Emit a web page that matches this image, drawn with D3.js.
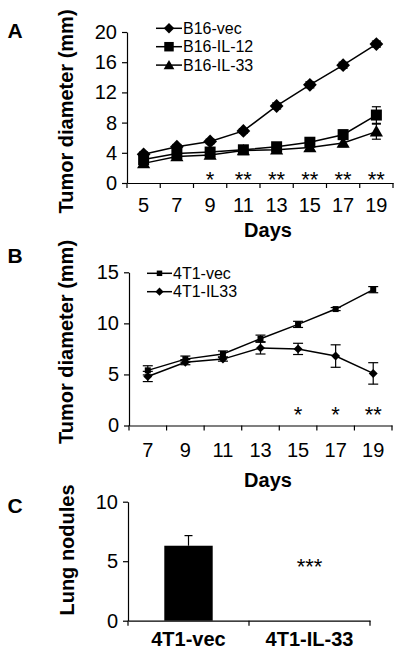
<!DOCTYPE html>
<html><head><meta charset="utf-8">
<script src="https://cdn.jsdelivr.net/npm/d3@7"></script>
<style>body{margin:0;background:#fff}svg{display:block}text{font-family:"Liberation Sans",Arial,sans-serif;fill:#000}</style>
</head><body>
<script>
// ---------- Panel A data ----------
const daysA = [5, 7, 9, 11, 13, 15, 17, 19];
const vecA = [3.8, 4.8, 5.5, 6.9, 10.2, 13.0, 15.6, 18.4];
const vecAErr = [0.3, 0.3, 0.3, 0.3, 0.4, 0.4, 0.4, 0.4];
const il12A = [3.1, 3.9, 4.1, 4.4, 4.8, 5.4, 6.4, 9.0];
const il12AErr = [0.3, 0.3, 0.3, 0.3, 0.4, 0.5, 0.6, 1.1];
const il33A = [2.6, 3.5, 3.7, 4.3, 4.4, 4.7, 5.3, 6.8];
const il33AErr = [0.3, 0.3, 0.3, 0.3, 0.3, 0.4, 0.5, 1.0];
const sigA = ["", "", "*", "**", "**", "**", "**", "**"];
const ticksA = [0, 4, 8, 12, 16, 20];
const legendA = ["B16-vec", "B16-IL-12", "B16-IL-33"];

// ---------- Panel B data ----------
const daysB = [7, 9, 11, 13, 15, 17, 19];
const vecB = [5.4, 6.5, 7.0, 8.5, 9.9, 11.4, 13.3];
const vecBErr = [0.45, 0.3, 0.3, 0.35, 0.3, 0.15, 0.3];
const il33B = [4.8, 6.2, 6.5, 7.6, 7.5, 6.8, 5.1];
const il33BErr = [0.5, 0.25, 0.2, 0.6, 0.55, 1.1, 1.05];
const sigB = ["", "", "", "", "*", "*", "**"];
const ticksB = [0, 5, 10, 15];
const legendB = ["4T1-vec", "4T1-IL33"];

// ---------- Panel C data ----------
const groupsC = ["4T1-vec", "4T1-IL-33"];
const valuesC = [6.3, 0];
const errC = [0.85, 0];
const sigC = ["", "***"];
const ticksC = [0, 5, 10];

const svg = d3.select("body").append("svg").attr("width", 400).attr("height", 654);

function marker(g, type, size, x, y) {
  let p;
  if (type === "diamond") p = g.append("path").attr("d", d3.symbol(d3.symbolSquare, size)()).attr("transform", `translate(${x},${y}) rotate(45)`);
  else if (type === "square") p = g.append("path").attr("d", d3.symbol(d3.symbolSquare, size)()).attr("transform", `translate(${x},${y})`);
  else p = g.append("path").attr("d", d3.symbol(d3.symbolTriangle, size)()).attr("transform", `translate(${x},${y + 1})`);
  p.attr("fill", "#000");
}

function axisStyle(g, fs) {
  g.select(".domain").attr("stroke", "#000").attr("stroke-width", 1.2);
  g.selectAll(".tick line").attr("stroke", "#000").attr("stroke-width", 1.2);
  g.selectAll(".tick text").style("font-size", fs + "px").attr("fill", "#000");
}

function linePanel(opts) {
  const { days, series, ticks, yDomain, xRange, yRange, pad, sig, sigY, legend, leg, capW, lw } = opts;
  const x = d3.scaleBand().domain(days).range(xRange);
  const y = d3.scaleLinear().domain(yDomain).range(yRange);
  const cx = d => x(d) + x.bandwidth() / 2;
  const g = svg.append("g");
  const ya = g.append("g").attr("transform", `translate(${xRange[0]},0)`)
    .call(d3.axisLeft(y).tickValues(ticks).tickSize(5).tickSizeOuter(0).tickPadding(5));
  axisStyle(ya, 20);
  const xa = g.append("g").attr("transform", `translate(0,${yRange[0]})`)
    .call(d3.axisBottom(x).tickSize(0).tickSizeOuter(0).tickPadding(pad));
  axisStyle(xa, 20);
  const edges = days.map(d => x(d)).concat([x.range()[1]]);
  xa.selectAll(".edge").data(edges).join("line").attr("class", "edge")
    .attr("x1", d => d).attr("x2", d => d).attr("y1", 0).attr("y2", 5)
    .attr("stroke", "#000").attr("stroke-width", 1.2);
  series.forEach(s => {
    const pts = days.map((d, i) => ({ d, v: s.values[i], e: s.err[i] }));
    g.append("path").datum(pts)
      .attr("d", d3.line().x(p => cx(p.d)).y(p => y(p.v)))
      .attr("fill", "none").attr("stroke", "#000").attr("stroke-width", lw);
    pts.forEach(p => {
      const X = cx(p.d);
      g.append("line").attr("x1", X).attr("x2", X).attr("y1", y(p.v - p.e)).attr("y2", y(p.v + p.e)).attr("stroke", "#000").attr("stroke-width", 1.2);
      [p.v - p.e, p.v + p.e].forEach(v => g.append("line").attr("x1", X - capW / 2).attr("x2", X + capW / 2).attr("y1", y(v)).attr("y2", y(v)).attr("stroke", "#000").attr("stroke-width", 1.2));
    });
  });
  series.forEach(s => {
    days.forEach((d, i) => marker(g, s.type, s.size, cx(d), y(s.values[i])));
  });
  g.selectAll(".sig").data(days).join("text").attr("class", "sig")
    .attr("x", d => cx(d)).attr("y", sigY).attr("text-anchor", "middle")
    .style("font-size", "22px").text((d, i) => sig[i]);
  legend.forEach((name, i) => {
    const ly = leg.y0 + i * leg.dy;
    g.append("line").attr("x1", leg.x0).attr("x2", leg.x1).attr("y1", ly).attr("y2", ly).attr("stroke", "#000").attr("stroke-width", lw);
    marker(g, series[i].type, leg.sizes[i], (leg.x0 + leg.x1) / 2, ly);
    g.append("text").attr("x", leg.x1 + 1).attr("y", ly).attr("dy", "0.36em").style("font-size", leg.fs + "px").text(name);
  });
  return { x, y };
}

// ---------- Panel A ----------
linePanel({
  days: daysA,
  series: [
    { values: vecA, err: vecAErr, type: "diamond", size: 95 },
    { values: il12A, err: il12AErr, type: "square", size: 121 },
    { values: il33A, err: il33AErr, type: "triangle", size: 75 }
  ],
  ticks: ticksA, yDomain: [0, 20], xRange: [127, 393], yRange: [183, 32], pad: 15,
  sig: sigA, sigY: 186.5, legend: legendA,
  leg: { x0: 156, x1: 182, y0: 28.3, dy: 18.4, fs: 16, sizes: [55, 90, 50] }, capW: 9, lw: 1.5
});

// ---------- Panel B ----------
linePanel({
  days: daysB,
  series: [
    { values: vecB, err: vecBErr, type: "square", size: 36 },
    { values: il33B, err: il33BErr, type: "diamond", size: 40 }
  ],
  ticks: ticksB, yDomain: [0, 15], xRange: [129, 392], yRange: [425.5, 272.3], pad: 17,
  sig: sigB, sigY: 421.5, legend: legendB,
  leg: { x0: 147, x1: 172, y0: 273.3, dy: 18.4, fs: 16, sizes: [30, 34] }, capW: 10, lw: 1.5
});

// ---------- Panel C ----------
{
  const x = d3.scaleBand().domain(groupsC).range([128, 370]);
  const y = d3.scaleLinear().domain([0, 10]).range([620.7, 501.7]);
  const g = svg.append("g");
  const ya = g.append("g").attr("transform", "translate(128,0)")
    .call(d3.axisLeft(y).tickValues(ticksC).tickSize(5).tickSizeOuter(0).tickPadding(5));
  axisStyle(ya, 20);
  const xa = g.append("g").attr("transform", "translate(0,620.7)")
    .call(d3.axisBottom(x).tickSize(0).tickSizeOuter(0).tickPadding(11));
  axisStyle(xa, 20);
  xa.selectAll(".tick text").style("font-weight", "bold");
  const edges = groupsC.map(d => x(d)).concat([x.range()[1]]);
  xa.selectAll(".edge").data(edges).join("line").attr("class", "edge")
    .attr("x1", d => d).attr("x2", d => d).attr("y1", 0).attr("y2", 5)
    .attr("stroke", "#000").attr("stroke-width", 1.2);
  const bw = x.bandwidth() * 0.4;
  groupsC.forEach((d, i) => {
    const cx = x(d) + x.bandwidth() / 2;
    if (valuesC[i] > 0) {
      g.append("line").attr("x1", cx).attr("x2", cx).attr("y1", y(valuesC[i])).attr("y2", y(valuesC[i] + errC[i])).attr("stroke", "#000").attr("stroke-width", 1.2);
      g.append("line").attr("x1", cx - 4).attr("x2", cx + 4).attr("y1", y(valuesC[i] + errC[i])).attr("y2", y(valuesC[i] + errC[i])).attr("stroke", "#000").attr("stroke-width", 1.2);
      g.append("rect").attr("x", cx - bw / 2).attr("width", bw).attr("y", y(valuesC[i])).attr("height", y(0) - y(valuesC[i])).attr("fill", "#000");
    }
    g.append("text").attr("x", cx).attr("y", 574).attr("text-anchor", "middle").style("font-size", "22px").text(sigC[i]);
  });
}

// ---------- titles ----------
const bold = (x, y, t, fs, rot) => {
  const e = svg.append("text").attr("text-anchor", "middle").style("font-size", fs + "px").style("font-weight", "bold").text(t);
  if (rot) e.attr("transform", `translate(${x},${y}) rotate(-90)`); else e.attr("x", x).attr("y", y);
};
bold(73, 111.5, "Tumor diameter (mm)", 20, true);
bold(73, 342, "Tumor diameter (mm)", 20, true);
bold(74, 550, "Lung nodules", 20, true);
bold(268, 237, "Days", 20);
bold(268, 487, "Days", 20);
bold(15, 38, "A", 21);
bold(15, 263, "B", 21);
bold(15, 513, "C", 21);
</script>
</body></html>
